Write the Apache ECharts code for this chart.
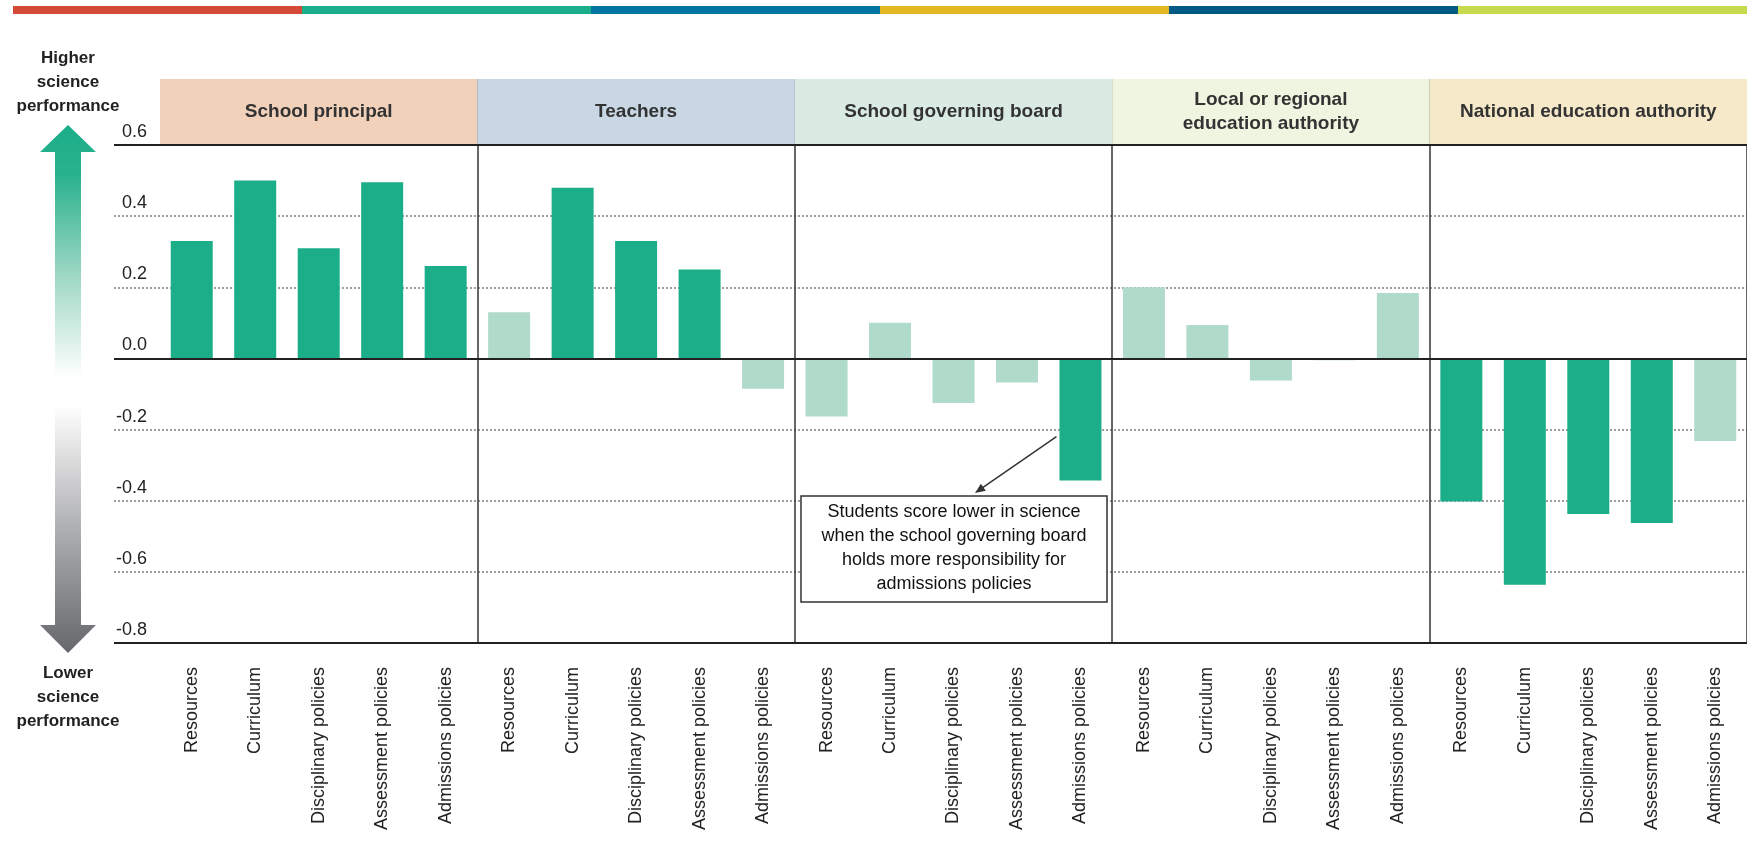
<!DOCTYPE html>
<html>
<head>
<meta charset="utf-8">
<title>Responsibility for school governance and science performance</title>
<script src="https://cdn.jsdelivr.net/npm/echarts@6/dist/echarts.min.js"></script>
<style>
  html, body { margin: 0; padding: 0; background: #fff; }
  #chart { width: 1747px; height: 859px; }
</style>
</head>
<body>
<div id="chart"></div>
<script>
const groups = ['School principal', 'Teachers', 'School governing board', 'Local or regional\neducation authority', 'National education authority']
const policies = ['Resources', 'Curriculum', 'Disciplinary policies', 'Assessment policies', 'Admissions policies']

// score-point difference (in science) per policy, one list per body
const principal = [0.33, 0.50, 0.31, 0.495, 0.26]
const teachers = [0.13, 0.48, 0.33, 0.25, -0.085]
const board = [-0.163, 0.10, -0.125, -0.068, -0.343]
const local = [0.20, 0.094, -0.062, -0.005, 0.184]
const national = [-0.402, -0.636, -0.437, -0.463, -0.232]

// significant differences get the dark bar
const sigPrincipal = [true, true, true, true, true]
const sigTeachers = [false, true, true, true, false]
const sigBoard = [false, false, false, false, true]
const sigLocal = [false, false, false, false, false]
const sigNational = [true, true, true, true, false]

const yTicks = [0.6, 0.4, 0.2, 0.0, -0.2, -0.4, -0.6, -0.8]

const FONT = "'Liberation Sans', Arial, Helvetica, sans-serif"
const DARK = '#1bae88'
const LIGHT = '#b0dac9'
const headerColors = ['#f2d1bb', '#c8d7e3', '#d9ebe3', '#eff5e0', '#f6e9c9']
const stripColors = ['#d44a36', '#1bae8a', '#0077a3', '#e3b822', '#005a84', '#c6da4e']

const values = [principal, teachers, board, local, national].flat()
const significant = [sigPrincipal, sigTeachers, sigBoard, sigLocal, sigNational].flat()
const xLabels = groups.flatMap(() => policies)
const yMin = Math.min(...yTicks)
const yMax = Math.max(...yTicks)
const yStep = 0.2

const PLOT_TOP = 145
const PLOT_H = 498
const HEAD_TOP = 79
const FRAME_LEFT = 114
const BAR_LEFT = 160
const BAR_W = 1596
const BAR_SIZE = 42

const chart = echarts.init(document.getElementById('chart'), null, { renderer: 'canvas' })

chart.setOption({
  animation: false,
  textStyle: { fontFamily: FONT },
  grid: [
    { left: FRAME_LEFT, top: PLOT_TOP, width: BAR_LEFT + BAR_W - FRAME_LEFT, height: PLOT_H },
    { left: BAR_LEFT, top: PLOT_TOP, width: BAR_W, height: PLOT_H },
    { left: BAR_LEFT, top: HEAD_TOP, width: BAR_W, height: PLOT_TOP - HEAD_TOP }
  ],
  xAxis: [
    { gridIndex: 0, type: 'value', min: 0, max: 1, show: false },
    {
      gridIndex: 1,
      type: 'category',
      data: xLabels,
      boundaryGap: true,
      axisLine: { show: false },
      axisTick: { show: false },
      axisLabel: {
        interval: 0,
        rotate: 90,
        margin: 24,
        fontSize: 18,
        color: '#222',
        formatter: (v, i) => policies[i % policies.length]
      },
      splitLine: {
        show: true,
        interval: (i) => i > 0 && i % policies.length === 0,
        lineStyle: { color: '#333', width: 1.5 }
      }
    },
    {
      gridIndex: 2,
      type: 'category',
      data: groups,
      boundaryGap: true,
      axisLine: { show: false },
      axisTick: { show: false },
      axisLabel: { show: false },
      splitLine: { show: true, interval: (i) => i > 0, lineStyle: { color: '#333', width: 1.5 } }
    }
  ],
  yAxis: [
    {
      gridIndex: 0,
      type: 'value',
      min: yMin,
      max: yMax,
      interval: yStep,
      axisLine: { show: false },
      axisTick: { show: false },
      axisLabel: { show: false },
      splitLine: { lineStyle: { color: '#7d7d7d', type: [2, 2], width: 1.5 } }
    },
    {
      gridIndex: 1,
      type: 'value',
      min: yMin,
      max: yMax,
      interval: yStep,
      axisLine: { show: false },
      axisTick: { show: false },
      splitLine: { show: false },
      axisLabel: {
        fontSize: 18,
        color: '#222',
        margin: 13,
        verticalAlign: 'bottom',
        padding: [0, 0, 4, 0],
        formatter: (v) => v.toFixed(1)
      }
    },
    { gridIndex: 2, type: 'value', min: 0, max: 1, show: false }
  ],
  series: [
    {
      // solid reference lines at top, zero and bottom
      type: 'line',
      xAxisIndex: 0,
      yAxisIndex: 0,
      data: [],
      silent: true,
      markLine: {
        silent: true,
        symbol: 'none',
        label: { show: false },
        lineStyle: { color: '#222', width: 2, type: 'solid' },
        data: [{ yAxis: yMax }, { yAxis: 0 }, { yAxis: yMin }]
      }
    },
    {
      // header bands naming the responsible body
      type: 'bar',
      xAxisIndex: 2,
      yAxisIndex: 2,
      silent: true,
      barWidth: '100%',
      data: groups.map((g, i) => ({ value: 1, itemStyle: { color: headerColors[i] } })),
      label: {
        show: true,
        position: 'inside',
        formatter: (p) => p.name,
        fontSize: 19,
        fontWeight: 'bold',
        color: '#333',
        lineHeight: 24
      }
    },
    {
      type: 'bar',
      xAxisIndex: 1,
      yAxisIndex: 1,
      barWidth: BAR_SIZE,
      data: values.map((v, i) => ({ value: v, itemStyle: { color: significant[i] ? DARK : LIGHT } }))
    }
  ]
})

// decorations: colour strip, side arrows, annotation
const stripStart = 13
const stripW = (1747 - stripStart) / stripColors.length
const graphics = stripColors.map((c, i) => ({
  type: 'rect',
  shape: { x: stripStart + i * stripW, y: 6, width: stripW + 0.5, height: 8 },
  style: { fill: c },
  silent: true
}))

const AX = 68
graphics.push({
  type: 'polygon',
  shape: { points: [[AX, 125], [AX + 28, 152], [AX + 13, 152], [AX + 13, 378], [AX - 13, 378], [AX - 13, 152], [AX - 28, 152]] },
  style: {
    fill: new echarts.graphic.LinearGradient(0, 0, 0, 1, [
      { offset: 0, color: '#1bae88' },
      { offset: 0.2, color: '#2ab28e' },
      { offset: 0.6, color: '#9fd8c5' },
      { offset: 1, color: '#ffffff' }
    ])
  },
  silent: true
})
graphics.push({
  type: 'polygon',
  shape: { points: [[AX - 13, 405], [AX + 13, 405], [AX + 13, 625], [AX + 28, 625], [AX, 653], [AX - 28, 625], [AX - 13, 625]] },
  style: {
    fill: new echarts.graphic.LinearGradient(0, 0, 0, 1, [
      { offset: 0, color: '#ffffff' },
      { offset: 0.5, color: '#aeafb1' },
      { offset: 1, color: '#66676a' }
    ])
  },
  silent: true
})
graphics.push({
  type: 'text',
  x: AX, y: 46,
  style: { text: 'Higher\nscience\nperformance', font: 'bold 17px ' + FONT, fill: '#222', align: 'center', lineHeight: 24 },
  silent: true
})
graphics.push({
  type: 'text',
  x: AX, y: 661,
  style: { text: 'Lower\nscience\nperformance', font: 'bold 17px ' + FONT, fill: '#222', align: 'center', lineHeight: 24 },
  silent: true
})

// annotation box pointing at school governing board / admissions policies
const box = { x: 801, y: 496, width: 306, height: 106 }
graphics.push({
  type: 'rect',
  shape: box,
  style: { fill: '#fff', stroke: '#333', lineWidth: 1.5 },
  z: 10,
  silent: true
})
graphics.push({
  type: 'text',
  x: box.x + box.width / 2,
  y: box.y + box.height / 2 - 1,
  style: {
    text: 'Students score lower in science\nwhen the school governing board\nholds more responsibility for\nadmissions policies',
    font: '18px ' + FONT,
    fill: '#111',
    align: 'center',
    verticalAlign: 'middle',
    lineHeight: 24
  },
  z: 11,
  silent: true
})
const target = chart.convertToPixel({ xAxisIndex: 1, yAxisIndex: 1 }, [14, -0.22])
const from = [target[0] - BAR_SIZE / 2 - 3, target[1]]
const to = [975, box.y - 3]
const ang = Math.atan2(to[1] - from[1], to[0] - from[0])
const head = 11
graphics.push({
  type: 'line',
  shape: { x1: from[0], y1: from[1], x2: to[0] - Math.cos(ang) * 4, y2: to[1] - Math.sin(ang) * 4 },
  style: { stroke: '#333', lineWidth: 1.5 },
  z: 10,
  silent: true
})
graphics.push({
  type: 'polygon',
  shape: {
    points: [
      to,
      [to[0] - head * Math.cos(ang - 0.4), to[1] - head * Math.sin(ang - 0.4)],
      [to[0] - head * Math.cos(ang + 0.4), to[1] - head * Math.sin(ang + 0.4)]
    ]
  },
  style: { fill: '#333' },
  z: 10,
  silent: true
})

chart.setOption({ graphic: graphics })
</script>
</body>
</html>
